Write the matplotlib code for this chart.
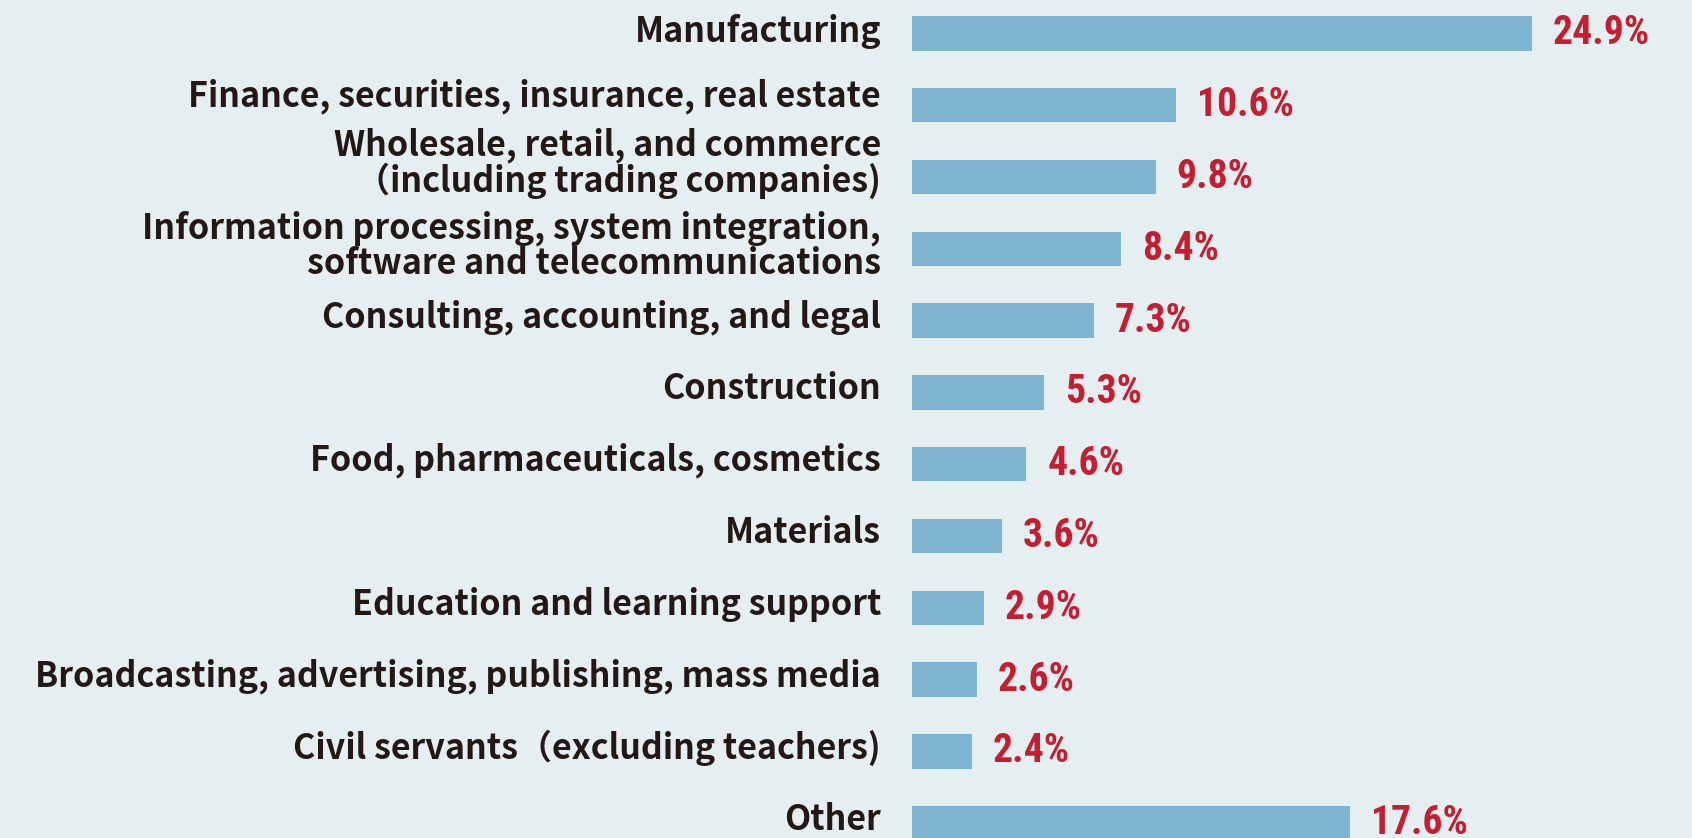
import matplotlib
matplotlib.use("Agg")
import matplotlib.pyplot as plt
from matplotlib import font_manager

# condensed face for the red percentages, if installed
num_family = "DejaVu Sans"
for name in ["Roboto Condensed", "Liberation Sans Narrow"]:
    try:
        font_manager.findfont(name, fallback_to_default=False)
        num_family = name
        break
    except Exception:
        pass
label_family = ["Noto Sans CJK JP", "DejaVu Sans"]

categories = [
    "Manufacturing",
    "Finance, securities, insurance, real estate",
    "Wholesale, retail, and commerce\n（including trading companies)",
    "Information processing, system integration,\nsoftware and telecommunications",
    "Consulting, accounting, and legal",
    "Construction",
    "Food, pharmaceuticals, cosmetics",
    "Materials",
    "Education and learning support",
    "Broadcasting, advertising, publishing, mass media",
    "Civil servants（excluding teachers)",
    "Other",
]
values = [24.9, 10.6, 9.8, 8.4, 7.3, 5.3, 4.6, 3.6, 2.9, 2.6, 2.4, 17.6]
value_labels = ["24.9%", "10.6%", "9.8%", "8.4%", "7.3%", "5.3%",
                "4.6%", "3.6%", "2.9%", "2.6%", "2.4%", "17.6%"]

bg = "#E5EEF1"
bar_color = "#7FB5D1"
red = "#C41E30"
ink = "#231815"

fig = plt.figure(figsize=(16.92, 8.38), dpi=100, facecolor=bg)
ax = fig.add_axes([0, 0, 1, 1])
ax.set_facecolor(bg)

pos = list(range(len(values)))
ax.barh(pos, values, height=0.48, color=bar_color)
ax.set_xlim(-36.66, 31.35)
ax.set_ylim(11.206, -0.465)
ax.axis("off")

# category labels right-aligned left of the bars
label_dy = [-0.03, -0.13, -0.19, -0.05, -0.05, -0.05, -0.05, -0.05, -0.05, -0.05, -0.05, -0.05]
for i, (lab, dy) in enumerate(zip(categories, label_dy)):
    ax.text(-1.25, i + dy, lab, ha="right", va="center", fontsize=24.5,
            fontweight="bold", color=ink, family=label_family, linespacing=1.0)

for i, (v, t) in enumerate(zip(values, value_labels)):
    ax.annotate(t, (v, i), xytext=(15, 0), textcoords="offset points",
                ha="left", va="center", fontsize=28.5, fontweight="bold",
                color=red, family=num_family)

fig.savefig("out.png", dpi=100, facecolor=bg)
